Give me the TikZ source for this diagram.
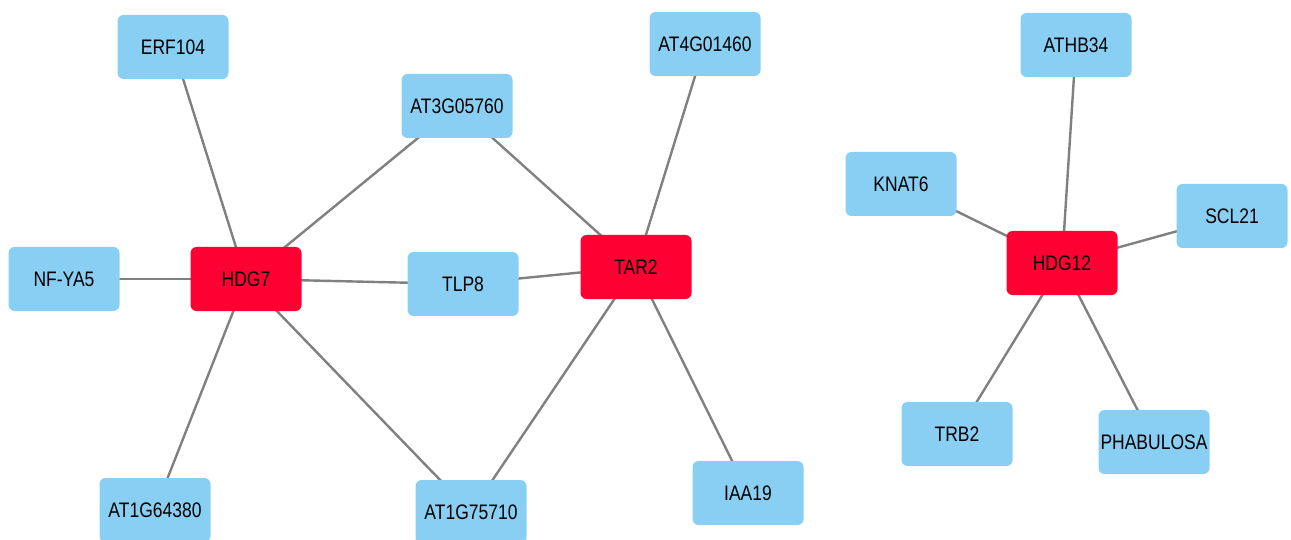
\documentclass[tikz,border=0pt]{standalone}
\usepackage{fontspec}
\setmainfont{Liberation Sans}
\usepackage{xcolor}
\usetikzlibrary{backgrounds}
\definecolor{geneblue}{RGB}{137,207,243}
\definecolor{hubred}{RGB}{255,0,51}
\definecolor{edgegray}{RGB}{128,128,128}
\newcommand{\glabel}[1]{\scalebox{1}[1.2]{#1}}
\tikzset{
  genenode/.style={rectangle, rounded corners=6pt, fill=geneblue, draw=none, minimum width=111pt, minimum height=64pt, inner sep=0pt, font=\fontsize{17.5}{20}\selectfont},
  hubnode/.style={genenode, fill=hubred},
  ppiedge/.style={draw=edgegray, line width=2.4pt}
}
\begin{document}
\begin{tikzpicture}[x=1pt, y=-1pt]
\useasboundingbox (0,0) rectangle (1291,540);
% left network
\node[hubnode] (hdg7) at (246,279) {\glabel{HDG7}};
\node[hubnode] (tar2) at (636,267) {\glabel{TAR2}};
\node[genenode] (erf104) at (173,47) {\glabel{ERF104}};
\node[genenode] (nfya5) at (64,279) {\glabel{NF-YA5}};
\node[genenode] (at1g64380) at (155,510) {\glabel{AT1G64380}};
\node[genenode] (at3g05760) at (457,106) {\glabel{AT3G05760}};
\node[genenode] (tlp8) at (463,284) {\glabel{TLP8}};
\node[genenode] (at1g75710) at (471,512) {\glabel{AT1G75710}};
\node[genenode] (at4g01460) at (705,44) {\glabel{AT4G01460}};
\node[genenode] (iaa19) at (748,493) {\glabel{IAA19}};
% right network
\node[hubnode] (hdg12) at (1062,263) {\glabel{HDG12}};
\node[genenode] (athb34) at (1076,45) {\glabel{ATHB34}};
\node[genenode] (knat6) at (901,184) {\glabel{KNAT6}};
\node[genenode] (scl21) at (1232,216) {\glabel{SCL21}};
\node[genenode] (trb2) at (957,434) {\glabel{TRB2}};
\node[genenode] (phabulosa) at (1154,442) {\glabel{PHABULOSA}};

\begin{scope}[on background layer]
\foreach \a/\b in {hdg7/erf104, hdg7/nfya5, hdg7/at3g05760, hdg7/tlp8, hdg7/at1g64380, hdg7/at1g75710,
                   tar2/at3g05760, tar2/tlp8, tar2/at4g01460, tar2/at1g75710, tar2/iaa19,
                   hdg12/athb34, hdg12/knat6, hdg12/scl21, hdg12/trb2, hdg12/phabulosa}
  \draw[ppiedge] (\a.center) -- (\b.center);
\end{scope}
\end{tikzpicture}
\end{document}
